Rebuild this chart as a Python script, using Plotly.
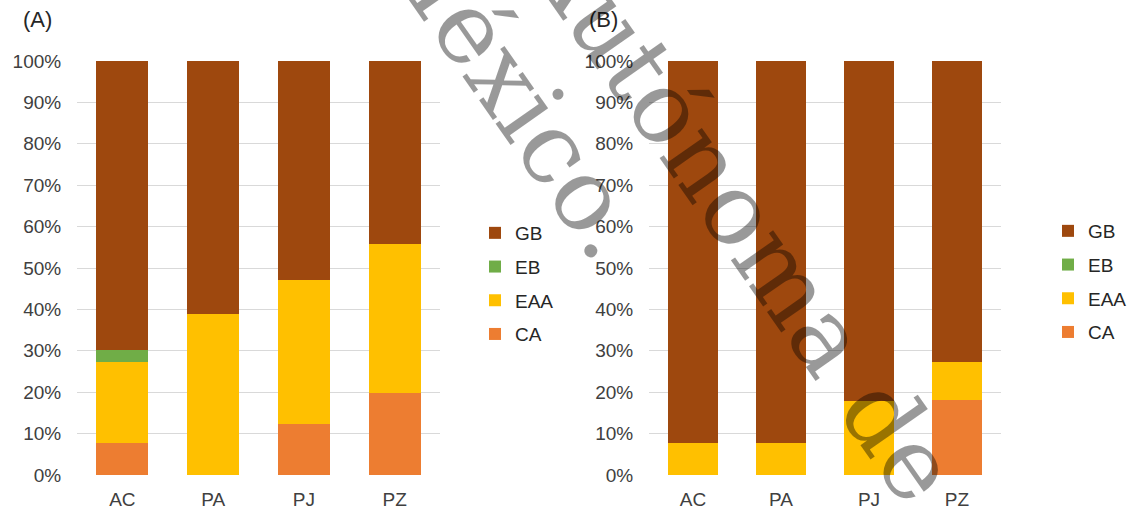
import plotly.graph_objects as go

# Sites and land-cover composition (%) for the two periods
sites = ["AC", "PA", "PJ", "PZ"]
classes = ["CA", "EAA", "EB", "GB"]
colors = {"CA": "#ED7D31", "EAA": "#FFC000", "EB": "#70AD47", "GB": "#9E480E"}
legend_rank = {"GB": 1, "EB": 2, "EAA": 3, "CA": 4}

panel_a = {
    "CA": [7.7, 0.0, 12.2, 19.7],
    "EAA": [19.7, 38.9, 34.8, 36.1],
    "EB": [2.8, 0.0, 0.0, 0.0],
    "GB": [69.8, 61.1, 53.0, 44.2],
}
panel_b = {
    "CA": [0.0, 0.0, 0.0, 18.2],
    "EAA": [7.7, 7.7, 17.9, 9.1],
    "EB": [0.0, 0.0, 0.0, 0.0],
    "GB": [92.3, 92.3, 82.1, 72.7],
}
y_ticks = list(range(0, 101, 10))
y_labels = [f"{v}%" for v in y_ticks]

W, H = 1134, 510
fig = go.Figure()

for name in classes:
    fig.add_trace(go.Bar(x=sites, y=panel_a[name], name=name, marker_color=colors[name],
                         marker_line_width=0, xaxis="x", yaxis="y",
                         legend="legend", legendgroup="a" + name,
                         legendrank=legend_rank[name]))
    fig.add_trace(go.Bar(x=sites, y=panel_b[name], name=name, marker_color=colors[name],
                         marker_line_width=0, xaxis="x2", yaxis="y2",
                         legend="legend2", legendgroup="b" + name,
                         legendrank=legend_rank[name]))

tick_font = dict(family="Liberation Sans, Arial", size=19, color="#404040")

def px_x(v):
    return v / W

def px_y(v):
    return 1 - v / H

yaxis_common = dict(range=[0, 100], tickvals=y_ticks, ticktext=y_labels, showgrid=True,
                    gridcolor="#D9D9D9", gridwidth=1, zeroline=False, showline=False,
                    tickfont=tick_font, ticks="outside", ticklen=11,
                    tickcolor="rgba(0,0,0,0)", automargin=False,
                    domain=[px_y(475), px_y(61)])
xaxis_common = dict(showgrid=False, zeroline=False, showline=False, tickfont=tick_font,
                    ticks="outside", ticklen=7, tickcolor="rgba(0,0,0,0)",
                    automargin=False, range=[-0.5, 3.5])

legend_common = dict(font=dict(family="Liberation Sans, Arial", size=19, color="#262626"),
                     traceorder="grouped", tracegroupgap=6,
                     bgcolor="rgba(0,0,0,0)", xanchor="left", yanchor="top")

fig.update_layout(
    width=W, height=H,
    margin=dict(l=0, r=0, t=0, b=0),
    paper_bgcolor="white", plot_bgcolor="white",
    barmode="stack", bargap=0.425,
    showlegend=True,
    xaxis=dict(domain=[px_x(77), px_x(440)], anchor="y", **xaxis_common),
    yaxis=dict(anchor="x", **yaxis_common),
    xaxis2=dict(domain=[px_x(649), px_x(1001)], anchor="y2", **xaxis_common),
    yaxis2=dict(anchor="x2", **yaxis_common),
    legend=dict(x=px_x(475), y=px_y(214), **legend_common),
    legend2=dict(x=px_x(1048), y=px_y(212), **legend_common),
)

# Panel labels
for label, xp in [("(A)", 21), ("(B)", 587)]:
    fig.add_annotation(text=label, xref="paper", yref="paper", x=px_x(xp), y=px_y(20),
                       xanchor="left", yanchor="middle", showarrow=False,
                       font=dict(family="Liberation Sans, Arial", size=22, color="#262626"))

# Diagonal watermark
wm_font = dict(family="DejaVu Serif", size=100, color="rgba(0,0,0,0.4)")
for text, cx, cy in [("México.", 510, 85), ("Autónoma de", 742, 215)]:
    fig.add_annotation(text=text, xref="paper", yref="paper", x=px_x(cx), y=px_y(cy),
                       xanchor="center", yanchor="middle", showarrow=False,
                       textangle=55, font=wm_font)

fig.write_html("out.html")
